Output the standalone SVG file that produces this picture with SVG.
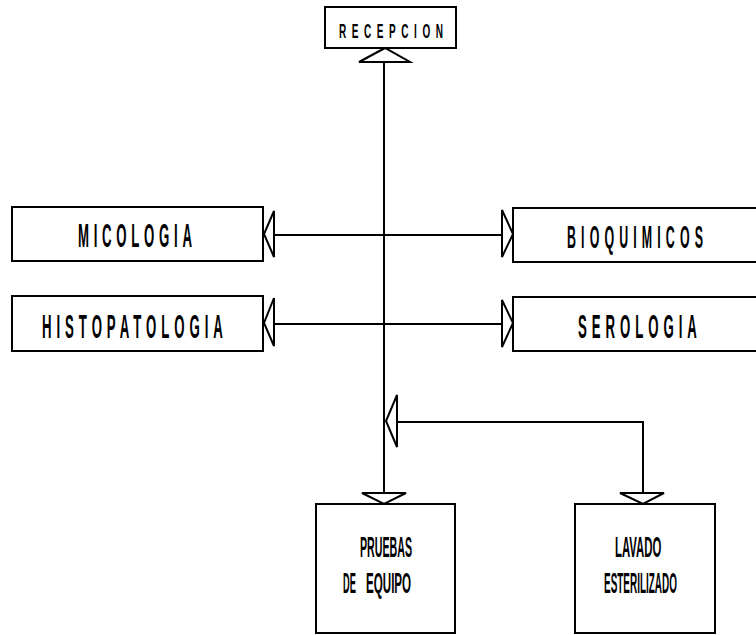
<svg xmlns="http://www.w3.org/2000/svg" width="756" height="635" viewBox="0 0 756 635">
<style>
.box{fill:#fff;stroke:#000;stroke-width:2}
.ln{fill:none;stroke:#000;stroke-width:2}
.ah{fill:#fff;stroke:#000;stroke-width:2;stroke-linejoin:miter}
.lbl{font-family:"Liberation Sans",Arial,sans-serif;font-weight:bold;fill:#000}
</style>
<rect width="756" height="635" fill="#fff"/>
<g id="connectors">
<line class="ln" x1="384" y1="62" x2="384" y2="493"/>
<line class="ln" x1="274" y1="235" x2="502" y2="235"/>
<line class="ln" x1="274" y1="324" x2="502" y2="324"/>
<path class="ln" d="M643,493 V422 H397"/>
<polygon class="ah" points="359,62 410,62 385,48"/>
<polygon class="ah" points="362,493 406,493 384,504"/>
<polygon class="ah" points="620,493 664,493 643,504"/>
<polygon class="ah" points="274,211 274,257 264,234"/>
<polygon class="ah" points="274,298 274,346 264,323"/>
<polygon class="ah" points="502,210 502,257 513,234"/>
<polygon class="ah" points="502,300 502,347 513,323"/>
<polygon class="ah" points="397,395 397,447 386,421"/>
</g>
<g id="recepcion">
<rect class="box" x="325" y="7" width="131" height="41"/>
<text class="lbl" font-size="20" transform="translate(339,38) scale(0.5,1)" textLength="208" lengthAdjust="spacing">RECEPCION</text>
</g>
<g id="micologia">
<rect class="box" x="12" y="207" width="251" height="54"/>
<text class="lbl" font-size="33" transform="translate(78,247) scale(0.4,1)" textLength="285" lengthAdjust="spacing">MICOLOGIA</text>
</g>
<g id="histopatologia">
<rect class="box" x="12" y="296" width="251" height="55"/>
<text class="lbl" font-size="33" transform="translate(42,338) scale(0.4,1)" textLength="452" lengthAdjust="spacing">HISTOPATOLOGIA</text>
</g>
<g id="bioquimicos">
<rect class="box" x="513" y="208" width="260" height="54"/>
<text class="lbl" font-size="31" transform="translate(567,248) scale(0.4,1)" textLength="340" lengthAdjust="spacing">BIOQUIMICOS</text>
</g>
<g id="serologia">
<rect class="box" x="513" y="297" width="260" height="54"/>
<text class="lbl" font-size="33" transform="translate(578,338) scale(0.4,1)" textLength="297" lengthAdjust="spacing">SEROLOGIA</text>
</g>
<g id="pruebas">
<rect class="box" x="316" y="504" width="139" height="129"/>
<text class="lbl" font-size="29" transform="translate(360,557) scale(0.367,1)">PRUEBAS</text>
<text class="lbl" font-size="29" transform="translate(343,593) scale(0.32,1)">DE</text>
<text class="lbl" font-size="29" transform="translate(366,593) scale(0.4,1)">EQUIPO</text>
</g>
<g id="lavado">
<rect class="box" x="575" y="504" width="140" height="129"/>
<text class="lbl" font-size="29" transform="translate(615,557) scale(0.392,1)">LAVADO</text>
<text class="lbl" font-size="29" transform="translate(604,593) scale(0.343,1)">ESTERILIZADO</text>
</g>
</svg>
